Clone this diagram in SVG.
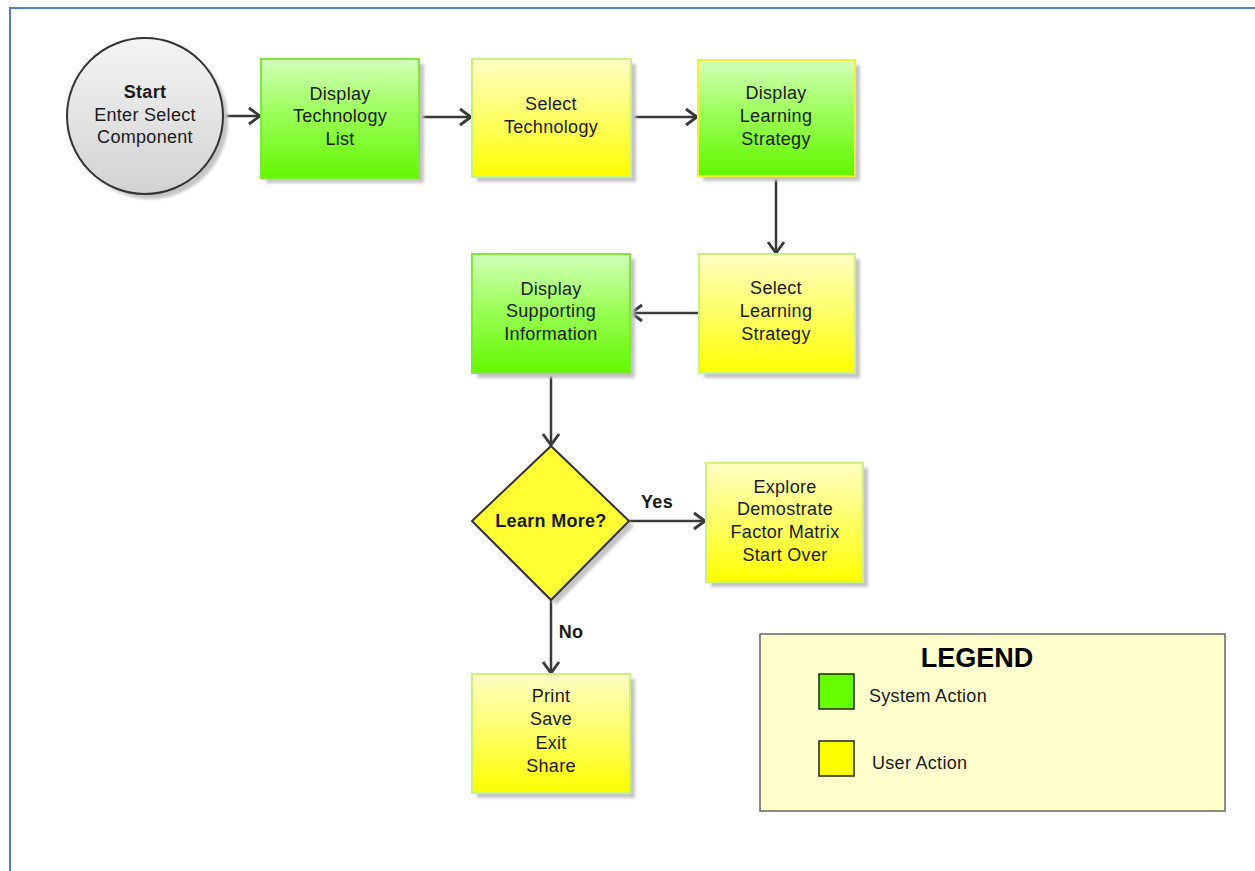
<svg xmlns="http://www.w3.org/2000/svg" width="1255" height="871" viewBox="0 0 1255 871">
<style>
.t{font-family:"Liberation Sans",Arial,sans-serif;font-size:18px;letter-spacing:0.3px;fill:#1a1a1a;text-anchor:middle}
.b{font-weight:bold}
.c{fill:none;stroke:#3a3a3a;stroke-width:2.5}
.sh{fill:#c4c4c4;filter:url(#blur)}
.g{fill:url(#gg);stroke:#7fe83a;stroke-width:2}
.y{fill:url(#yg);stroke:#ccf27a;stroke-width:2}
</style>
<defs>
<linearGradient id="gg" x1="0" y1="0" x2="0" y2="1"><stop offset="0" stop-color="#d2ffba"/><stop offset="0.45" stop-color="#9cff5a"/><stop offset="1" stop-color="#62f700"/></linearGradient>
<linearGradient id="yg" x1="0" y1="0" x2="0" y2="1"><stop offset="0" stop-color="#ffffc4"/><stop offset="0.5" stop-color="#ffff66"/><stop offset="1" stop-color="#ffff00"/></linearGradient>
<linearGradient id="cg" x1="0" y1="0" x2="0" y2="1"><stop offset="0" stop-color="#f4f4f4"/><stop offset="1" stop-color="#d2d2d2"/></linearGradient>
<filter id="blur" x="-10%" y="-10%" width="120%" height="120%"><feGaussianBlur stdDeviation="1.5"/></filter>
<marker id="ah" markerWidth="16" markerHeight="20" refX="13" refY="10" orient="auto" markerUnits="userSpaceOnUse"><path d="M2,2 L13,10 L2,18" fill="none" stroke="#3a3a3a" stroke-width="2.8"/></marker>
</defs>
<rect width="1255" height="871" fill="#fff"/>
<path d="M1255,8 H10 V871" fill="none" stroke="#4f81bd" stroke-width="2"/>

<g id="connectors">
<line class="c" x1="223" y1="116" x2="260" y2="116" marker-end="url(#ah)"/>
<line class="c" x1="419" y1="117" x2="471" y2="117" marker-end="url(#ah)"/>
<line class="c" x1="631" y1="117" x2="697" y2="117" marker-end="url(#ah)"/>
<line class="c" x1="776" y1="176" x2="776" y2="253" marker-end="url(#ah)"/>
<line class="c" x1="699" y1="313" x2="631" y2="313" marker-end="url(#ah)"/>
<line class="c" x1="551" y1="373" x2="551" y2="445" marker-end="url(#ah)"/>
<line class="c" x1="629" y1="521" x2="705" y2="521" marker-end="url(#ah)"/>
<line class="c" x1="551" y1="600" x2="551" y2="673" marker-end="url(#ah)"/>
<text class="t b" x="657" y="508">Yes</text>
<text class="t b" x="571" y="638">No</text>
</g>

<g id="start">
<circle class="sh" cx="150" cy="121" r="78"/>
<circle cx="145" cy="116" r="78" fill="url(#cg)" stroke="#333" stroke-width="2"/>
<text class="t b" x="145" y="98">Start</text>
<text class="t" x="145" y="121">Enter Select</text>
<text class="t" x="145" y="143">Component</text>
</g>

<g id="display-technology-list">
<rect class="sh" x="266" y="64" width="158" height="119"/>
<rect class="g" x="261" y="59" width="158" height="119"/>
<text class="t" x="340" y="100">Display</text>
<text class="t" x="340" y="122">Technology</text>
<text class="t" x="340" y="145">List</text>
</g>

<g id="select-technology">
<rect class="sh" x="477" y="64" width="159" height="118"/>
<rect class="y" x="472" y="59" width="159" height="118"/>
<text class="t" x="551" y="110">Select</text>
<text class="t" x="551" y="133">Technology</text>
</g>

<g id="display-learning-strategy">
<rect class="sh" x="703" y="65" width="157" height="116"/>
<rect x="698" y="60" width="157" height="116" fill="url(#gg)" stroke="#f2f230" stroke-width="2"/>
<text class="t" x="776" y="99">Display</text>
<text class="t" x="776" y="122">Learning</text>
<text class="t" x="776" y="145">Strategy</text>
</g>

<g id="select-learning-strategy">
<rect class="sh" x="704" y="259" width="156" height="119"/>
<rect class="y" x="699" y="254" width="156" height="119"/>
<text class="t" x="776" y="294">Select</text>
<text class="t" x="776" y="317">Learning</text>
<text class="t" x="776" y="340">Strategy</text>
</g>

<g id="display-supporting-information">
<rect class="sh" x="477" y="259" width="158" height="119"/>
<rect class="g" x="472" y="254" width="158" height="119"/>
<text class="t" x="551" y="295">Display</text>
<text class="t" x="551" y="317">Supporting</text>
<text class="t" x="551" y="340">Information</text>
</g>

<g id="learn-more">
<polygon class="sh" points="556,451 634,526 556,605 477,526"/>
<polygon points="551,446 629,521 551,600 472,521" fill="#ffff33" stroke="#333" stroke-width="2"/>
<text class="t b" x="551" y="527">Learn More?</text>
</g>

<g id="explore">
<rect class="sh" x="711" y="468" width="157" height="119"/>
<rect class="y" x="706" y="463" width="157" height="119"/>
<text class="t" x="785" y="493">Explore</text>
<text class="t" x="785" y="515">Demostrate</text>
<text class="t" x="785" y="538">Factor Matrix</text>
<text class="t" x="785" y="561">Start Over</text>
</g>

<g id="print">
<rect class="sh" x="477" y="679" width="158" height="119"/>
<rect class="y" x="472" y="674" width="158" height="119"/>
<text class="t" x="551" y="702">Print</text>
<text class="t" x="551" y="725">Save</text>
<text class="t" x="551" y="749">Exit</text>
<text class="t" x="551" y="772">Share</text>
</g>

<g id="legend">
<rect x="760" y="634" width="465" height="177" fill="#ffffcc" stroke="#666" stroke-width="1.5"/>
<text class="t b" x="977" y="667" style="font-size:27px;letter-spacing:0;fill:#000">LEGEND</text>
<rect x="819" y="674" width="35" height="35" fill="#66ff00" stroke="#222" stroke-width="1.5"/>
<text class="t" x="869" y="702" style="text-anchor:start">System Action</text>
<rect x="819" y="741" width="35" height="35" fill="#ffff00" stroke="#222" stroke-width="1.5"/>
<text class="t" x="872" y="769" style="text-anchor:start">User Action</text>
</g>
</svg>
